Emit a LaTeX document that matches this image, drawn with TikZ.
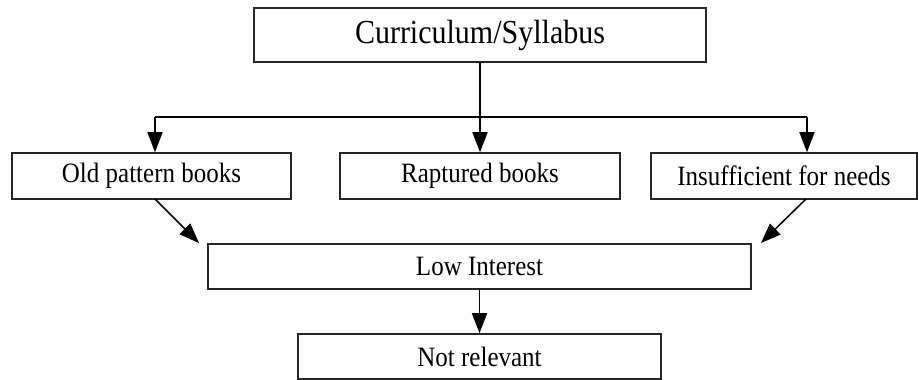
\documentclass[tikz,border=0pt]{standalone}
\usepackage{fontspec}
\usepackage{graphicx}
\setmainfont{Liberation Serif}
\usetikzlibrary{arrows.meta}
\newcommand{\tallt}[1]{\scalebox{1}[1.12]{#1}}
\begin{document}
\begin{tikzpicture}[x=1pt,y=1pt,
  box/.style={draw=black!85,line width=1.5pt,inner sep=0pt,font=\fontsize{25}{30}\selectfont},
  arr/.style={line width=1.5pt,-{Triangle[length=20pt,width=15pt]}},
  ln/.style={line width=1.5pt}]
\useasboundingbox (0,0) rectangle (919,380);
\node[box,minimum width=452pt,minimum height=54pt,font=\fontsize{30}{36}\selectfont] (top) at (480,345) {\tallt{Curriculum/Syllabus}};
\node[box,minimum width=279pt,minimum height=46pt] (old) at (151.5,204) {\tallt{Old pattern books}};
\node[box,minimum width=280pt,minimum height=46pt] (rap) at (480,204) {\tallt{Raptured books}};
\node[box,minimum width=266pt,minimum height=46pt] (ins) at (784,204) {\tallt{Insufficient for needs}};
\node[box,minimum width=543pt,minimum height=45pt] (low) at (479.5,113.5) {\tallt{Low Interest}};
\node[box,minimum width=363pt,minimum height=45pt] (nr) at (479.5,23.5) {\tallt{Not relevant}};
\coordinate (hub) at (480,263);
\coordinate (hl) at (155,263);
\coordinate (hr) at (807,263);
\draw[ln] (top.south) -- (hub);
\draw[ln] (hl) -- (hr);
\draw[arr] (hl) -- (hl |- old.north);
\draw[arr] (hub) -- (rap.north);
\draw[arr] (hr) -- (hr |- ins.north);
\coordinate (ol) at (155,181);
\coordinate (oe) at (199,137);
\coordinate (ir) at (806,181);
\coordinate (ie) at (761,137);
\draw[arr] (ol) -- (oe);
\draw[arr] (ir) -- (ie);
\draw[arr] (low.south) -- (nr.north);
\end{tikzpicture}
\end{document}
